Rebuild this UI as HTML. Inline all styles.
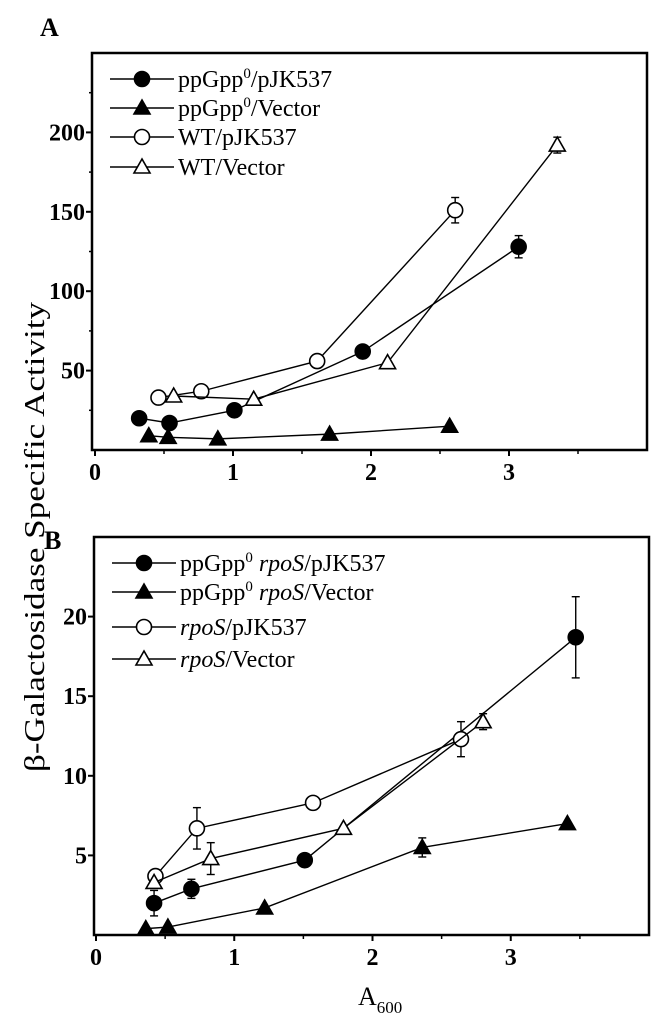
<!DOCTYPE html>
<html><head><meta charset="utf-8"><style>
html,body{margin:0;padding:0;background:#fff;width:658px;height:1022px;overflow:hidden}
svg{display:block}
text{font-family:"Liberation Serif",serif;fill:#000}
</style></head><body>
<svg id="fig" width="658" height="1022">
<text x="40" y="36" font-size="26" font-weight="bold">A</text>
<text x="44" y="549" font-size="26" font-weight="bold">B</text>
<text transform="translate(44,537) rotate(-90)" text-anchor="middle" font-size="28" textLength="470" lengthAdjust="spacingAndGlyphs">β-Galactosidase Specific Activity</text>
<text x="358" y="1005" font-size="26">A<tspan font-size="17" dy="8">600</tspan></text>
</svg>
<script>
// Panel A data
const aSeriesNames = ["ppGpp⁰/pJK537","ppGpp⁰/Vector","WT/pJK537","WT/Vector"];
const aX1 = [0.32,0.54,1.01,1.94,3.07];
const aY1 = [20,17,25,62,128];
const aE1 = [0,0,0,4,7];
const aX2 = [0.39,0.53,0.89,1.70,2.57];
const aY2 = [9,8,7,10,15];
const aE2 = [0,0,0,0,0];
const aX3 = [0.46,0.77,1.61,2.61];
const aY3 = [33,37,56,151];
const aE3 = [0,0,0,8];
const aX4 = [0.57,1.15,2.12,3.35];
const aY4 = [34,32,55,192];
const aE4 = [0,0,0,5];
const aYTicks = [50,100,150,200];
const xTicks = [0,1,2,3];
// Panel B data
const bX1 = [0.42,0.69,1.51,3.47];
const bY1 = [2.0,2.9,4.7,18.7];
const bE1 = [0.8,0.6,0,2.55];
const bX2 = [0.36,0.52,1.22,2.36,3.41];
const bY2 = [0.4,0.5,1.7,5.5,7.0];
const bE2 = [0,0,0,0.6,0];
const bX3 = [0.43,0.73,1.57,2.64];
const bY3 = [3.7,6.7,8.3,12.3];
const bE3 = [0,1.3,0,1.1];
const bX4 = [0.42,0.83,1.79,2.80];
const bY4 = [3.3,4.8,6.7,13.4];
const bE4 = [0,1.0,0,0.5];
const bYTicks = [5,10,15,20];

const NS="http://www.w3.org/2000/svg";
const svg=document.getElementById('fig');
function mk(tag,attrs,parent){const e=document.createElementNS(NS,tag);for(const k in attrs)e.setAttribute(k,attrs[k]);(parent||svg).appendChild(e);return e;}

function marker(g,kind,cx,cy){
  let e;
  const fill=(kind==='fc'||kind==='ft')?'#000':'#fff';
  if(kind==='fc'||kind==='oc'){e=mk('circle',{cx:cx,cy:cy,r:7.5,fill:fill,stroke:'#000','stroke-width':1.6},g);}
  else{e=mk('polygon',{points:`${cx},${cy-8} ${cx-8},${cy+6} ${cx+8},${cy+6}`,fill:fill,stroke:'#000','stroke-width':1.6},g);}
  return e;
}

function panel(cfg){
  const {name,x0,x1,y0,y1,xmax,ymax,yTicks,yMinor,series,legend,legY,legX}=cfg;
  const xs=v=>x0+(v/xmax)*(x1-x0);
  const ys=v=>y1-(v/ymax)*(y1-y0);
  const g=mk('g',{});
  
  
  const box=mk('rect',{x:cfg.bx,y:y0,width:x1-cfg.bx,height:y1-y0,fill:'none',stroke:'#000','stroke-width':2.5},g);
  
  
  for(const t of yTicks){
    const y=ys(t);
    mk('line',{x1:cfg.bx-6,x2:cfg.bx,y1:y,y2:y,stroke:'#000','stroke-width':2},g);
    const tx=mk('text',{x:cfg.bx-7,y:y+8,'text-anchor':'end','font-size':24,'font-weight':'bold'},g);
    tx.textContent=t;
    
    
  }
  for(const t of yMinor){const y=ys(t);mk('line',{x1:cfg.bx-3,x2:cfg.bx,y1:y,y2:y,stroke:'#000','stroke-width':1.5},g);}
  for(const t of xTicks){
    const x=xs(t);
    mk('line',{x1:x,x2:x,y1:y1,y2:y1+6,stroke:'#000','stroke-width':2},g);
    const tx=mk('text',{x:x,y:y1+30,'text-anchor':'middle','font-size':24,'font-weight':'bold'},g);
    tx.textContent=t;
    
    
  }
  for(const t of [0.5,1.5,2.5,3.5]){const x=xs(t);mk('line',{x1:x,x2:x,y1:y1,y2:y1+4,stroke:'#000','stroke-width':1.5},g);}
  series.forEach((s,i)=>{
    const sg=mk('g',{},g);
    
    
    const pts=s.x.map((v,j)=>xs(v)+','+ys(s.y[j])).join(' ');
    const pl=mk('polyline',{points:pts,fill:'none',stroke:'#000','stroke-width':1.4},sg);
    
    
    s.x.forEach((v,j)=>{
      const cx=xs(v),cy=ys(s.y[j]);
      if(s.e[j]>0){
        const t=ys(s.y[j]+s.e[j]),b=ys(s.y[j]-s.e[j]);
        mk('line',{x1:cx,x2:cx,y1:t,y2:b,stroke:'#000','stroke-width':1.4},sg);
        mk('line',{x1:cx-4,x2:cx+4,y1:t,y2:t,stroke:'#000','stroke-width':1.4},sg);
        mk('line',{x1:cx-4,x2:cx+4,y1:b,y2:b,stroke:'#000','stroke-width':1.4},sg);
      }
      const m=marker(sg,s.kind,cx,cy);
      
      
    });
  });
  const lg=mk('g',{},g);
  
  
  legend.forEach((html,i)=>{
    const y=legY[i];
    const eg=mk('g',{},lg);
    
    
    mk('line',{x1:legX,x2:legX+64,y1:y,y2:y,stroke:'#000','stroke-width':1.6},eg);
    marker(eg,series[i].kind,legX+32,y);
    const t=mk('text',{x:legX+68,y:y+8,'font-size':24},eg);
    t.innerHTML=html;
  });
}

panel({name:'panel-a',bx:92,x0:95,x1:647,y0:53,y1:450,xmax:4,ymax:250,
  yTicks:aYTicks,yMinor:[25,75,125,175,225],
  series:[{id:'ppgpp0-pjk537',kind:'fc',x:aX1,y:aY1,e:aE1},{id:'ppgpp0-vector',kind:'ft',x:aX2,y:aY2,e:aE2},
          {id:'wt-pjk537',kind:'oc',x:aX3,y:aY3,e:aE3},{id:'wt-vector',kind:'ot',x:aX4,y:aY4,e:aE4}],
  legend:['ppGpp<tspan font-size="15" dy="-9">0</tspan><tspan dy="9">/pJK537</tspan>','ppGpp<tspan font-size="15" dy="-9">0</tspan><tspan dy="9">/Vector</tspan>','WT/pJK537','WT/Vector'],
  legY:[79,108,137,167],legX:110});

panel({name:'panel-b',bx:94,x0:96,x1:649,y0:537,y1:935,xmax:4,ymax:25,
  yTicks:bYTicks,yMinor:[],
  series:[{id:'ppgpp0-rpos-pjk537',kind:'fc',x:bX1,y:bY1,e:bE1},{id:'ppgpp0-rpos-vector',kind:'ft',x:bX2,y:bY2,e:bE2},
          {id:'rpos-pjk537',kind:'oc',x:bX3,y:bY3,e:bE3},{id:'rpos-vector',kind:'ot',x:bX4,y:bY4,e:bE4}],
  legend:['ppGpp<tspan font-size="15" dy="-9">0</tspan><tspan dy="9"> </tspan><tspan font-style="italic">rpoS</tspan>/pJK537','ppGpp<tspan font-size="15" dy="-9">0</tspan><tspan dy="9"> </tspan><tspan font-style="italic">rpoS</tspan>/Vector','<tspan font-style="italic">rpoS</tspan>/pJK537','<tspan font-style="italic">rpoS</tspan>/Vector'],
  legY:[563,592,627,659],legX:112});
</script>
</body></html>
